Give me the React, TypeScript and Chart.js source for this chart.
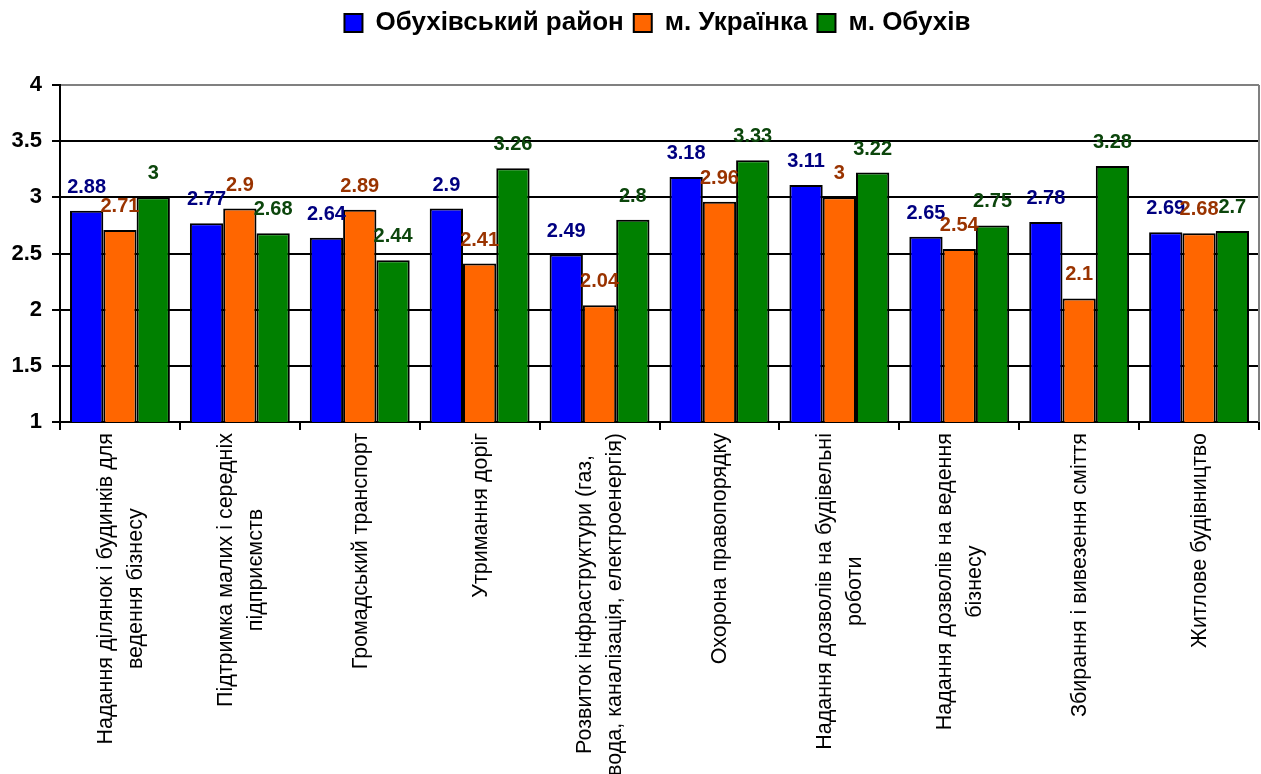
import React, { useEffect, useRef } from "react";
import { Chart, registerables } from "chart.js";

Chart.register(...registerables);

const categories: string[][] = [
  ["Надання ділянок і будинків для", "ведення бізнесу"],
  ["Підтримка малих і середніх", "підприємств"],
  ["Громадський транспорт"],
  ["Утримання доріг"],
  ["Розвиток інфраструктури (газ,", "вода, каналізація, електроенергія)"],
  ["Охорона правопорядку"],
  ["Надання дозволів на будівельні", "роботи"],
  ["Надання дозволів на ведення", "бізнесу"],
  ["Збирання і вивезення сміття"],
  ["Житлове будівництво"],
];

const seriesNames = ["Обухівський район", "м. Українка", "м. Обухів"];
const raionValues = [2.88, 2.77, 2.64, 2.9, 2.49, 3.18, 3.11, 2.65, 2.78, 2.69];
const ukrainkaValues = [2.71, 2.9, 2.89, 2.41, 2.04, 2.96, 3, 2.54, 2.1, 2.68];
const obukhivValues = [3, 2.68, 2.44, 3.26, 2.8, 3.33, 3.22, 2.75, 3.28, 2.7];

const yMin = 1;
const yMax = 4;
const yStep = 0.5;

const barColors = ["#0000FF", "#FF6600", "#008000"];
const labelColors = ["#000080", "#993300", "#0C460C"];

const FONT = '"Liberation Sans", Arial, sans-serif';

export default function App() {
  const ref = useRef<HTMLCanvasElement>(null);

  useEffect(() => {
    const canvas = ref.current;
    if (!canvas) return;

    const valueLabels = {
      id: "valueLabels",
      afterDatasetsDraw(chart: any) {
        const ctx = chart.ctx;
        ctx.save();
        ctx.font = `bold 20px ${FONT}`;
        ctx.textAlign = "center";
        ctx.textBaseline = "alphabetic";
        chart.data.datasets.forEach((ds: any, di: number) => {
          const meta = chart.getDatasetMeta(di);
          meta.data.forEach((bar: any, i: number) => {
            ctx.fillStyle = labelColors[di];
            ctx.fillText(String(ds.data[i]), bar.x, bar.y - 18);
          });
        });
        ctx.restore();
      },
    };

    const categoryLabels = {
      id: "categoryLabels",
      afterDraw(chart: any) {
        const ctx = chart.ctx;
        const xs = chart.scales.x;
        const lineH = 30;
        ctx.save();
        ctx.font = `21.5px ${FONT}`;
        ctx.fillStyle = "#000";
        ctx.textAlign = "center";
        ctx.textBaseline = "middle";
        const y0 = chart.chartArea.bottom + 11;
        categories.forEach((lines, i) => {
          const cx = xs.getPixelForTick(i) + 1;
          const w = Math.max(...lines.map((l) => ctx.measureText(l).width));
          const n = lines.length;
          lines.forEach((line, j) => {
            const lx = cx + (j - (n - 1) / 2) * lineH;
            ctx.save();
            ctx.translate(lx, y0 + w / 2);
            ctx.rotate(-Math.PI / 2);
            ctx.fillText(line, 0, 0);
            ctx.restore();
          });
        });
        ctx.restore();
      },
    };

    const rightBorder = {
      id: "rightBorder",
      beforeDatasetsDraw(chart: any) {
        const { ctx, chartArea } = chart;
        ctx.save();
        ctx.strokeStyle = "#808080";
        ctx.lineWidth = 2;
        ctx.beginPath();
        ctx.moveTo(chartArea.right, chartArea.top);
        ctx.lineTo(chartArea.right, chartArea.bottom);
        ctx.stroke();
        ctx.restore();
      },
    };

    const legendShift = {
      id: "legendShift",
      afterLayout(chart: any) {
        if (chart.legend) chart.legend.left += 56;
      },
    };

    const values = [raionValues, ukrainkaValues, obukhivValues];

    const chart = new Chart(canvas, {
      type: "bar",
      data: {
        labels: categories,
        datasets: values.map((data, i) => ({
          label: seriesNames[i],
          data,
          backgroundColor: barColors[i],
          borderColor: "#000",
          borderWidth: 2,
          categoryPercentage: 0.833,
          barPercentage: 1,
        })),
      },
      options: {
        responsive: false,
        animation: false,
        layout: { padding: { top: 0, right: 2, bottom: 0, left: 0 } },
        plugins: {
          tooltip: { enabled: false },
          legend: {
            display: true,
            position: "top",
            labels: {
              boxWidth: 18,
              boxHeight: 18,
              padding: 10,
              color: "#000",
              font: { family: FONT, size: 26, weight: "bold" },
            },
          },
          title: {
            display: true,
            text: " ",
            position: "top",
            weight: 500,
            font: { size: 10, lineHeight: 1 },
            padding: { top: 0, bottom: 29 },
          },
        },
        scales: {
          x: {
            offset: true,
            grid: {
              display: true,
              offset: true,
              drawOnChartArea: false,
              drawTicks: true,
              tickLength: 8,
              color: "#000",
              lineWidth: 2,
            },
            border: { display: true, color: "#000", width: 2 },
            ticks: { display: false },
            afterFit(s: any) {
              s.height = 352;
            },
          },
          y: {
            min: yMin,
            max: yMax,
            ticks: {
              stepSize: yStep,
              color: "#000",
              padding: 10,
              font: { family: FONT, size: 22, weight: "bold" },
              callback: (v: any) => String(v),
            },
            grid: {
              color: (c: any) => (c.tick && c.tick.value === yMax ? "#808080" : "#000"),
              lineWidth: 2,
              tickLength: 8,
              tickColor: "#000",
            },
            border: { display: true, color: "#000", width: 2 },
            afterFit(s: any) {
              s.width = 60;
            },
          },
        },
      },
      plugins: [legendShift, rightBorder, valueLabels, categoryLabels],
    });

    return () => chart.destroy();
  }, []);

  return (
    <div style={{ position: "fixed", left: 0, top: 0, width: 1261, height: 774, background: "#fff" }}>
      <canvas ref={ref} width={1261} height={774} style={{ display: "block", width: 1261, height: 774 }} />
    </div>
  );
}
